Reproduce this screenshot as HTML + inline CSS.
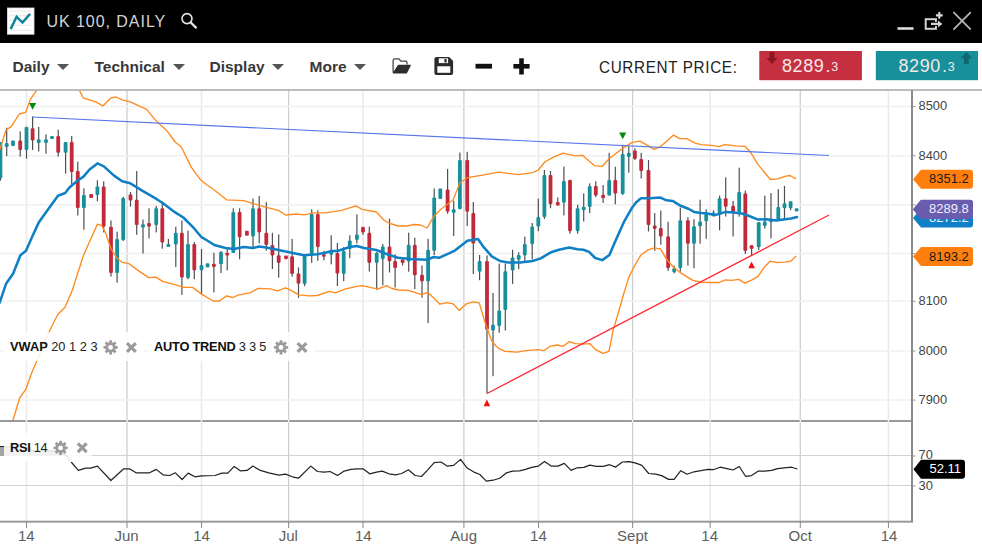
<!DOCTYPE html>
<html><head><meta charset="utf-8"><title>UK 100, DAILY</title>
<style>
html,body{margin:0;padding:0;}
body{width:982px;height:550px;position:relative;overflow:hidden;background:#fff;font-family:"Liberation Sans",sans-serif;}
.abs{position:absolute;white-space:nowrap;}
#title{left:0;top:0;width:982px;height:42.5px;background:#000;}
#ttext{left:46.5px;top:11.7px;font-size:16px;line-height:20px;color:#d4d4d4;letter-spacing:0.95px;}
.menu{top:56.6px;font-size:15.5px;line-height:20px;font-weight:bold;color:#383838;}
.caret{top:63.9px;margin-left:-0.4px;width:0;height:0;border-left:6px solid transparent;border-right:6px solid transparent;border-top:6px solid #555;}
#cprice{left:598.5px;top:57px;font-size:16.5px;line-height:20px;color:#222;letter-spacing:0.7px;transform:scaleX(0.925);transform-origin:0 0;}
.pbox{top:51px;height:29px;color:#f4e9ea;}
.pbox .big{position:absolute;top:4.6px;font-size:18px;line-height:20px;letter-spacing:0.6px;}
.pbox .sm{position:absolute;top:9.2px;font-size:12.5px;line-height:14px;}
.ax{font-size:12.9px;line-height:14px;color:#444;left:918.5px;}
.xl{font-size:15px;line-height:18px;color:#5e5e5e;top:527.3px;transform:translateX(-50%);}
.lab{font-size:13px;line-height:14px;}
.leg{font-size:12.8px;line-height:16px;color:#222;background:rgba(255,255,255,0.86);}
.leg b{color:#111;}
</style></head><body>
<svg class="abs" style="left:0;top:0" width="982" height="550" viewBox="0 0 982 550">
<defs><clipPath id="cp"><rect x="0" y="90" width="912" height="330.5"/></clipPath></defs>
<line x1="26.5" y1="90" x2="26.5" y2="522" stroke="#e9e9e9" stroke-width="1.5"/>
<line x1="127" y1="90" x2="127" y2="522" stroke="#cecece" stroke-width="1.3"/>
<line x1="201.5" y1="90" x2="201.5" y2="522" stroke="#e9e9e9" stroke-width="1.5"/>
<line x1="288.6" y1="90" x2="288.6" y2="522" stroke="#cecece" stroke-width="1.3"/>
<line x1="363" y1="90" x2="363" y2="522" stroke="#e9e9e9" stroke-width="1.5"/>
<line x1="463.9" y1="90" x2="463.9" y2="522" stroke="#cecece" stroke-width="1.3"/>
<line x1="538.5" y1="90" x2="538.5" y2="522" stroke="#e9e9e9" stroke-width="1.5"/>
<line x1="632.6" y1="90" x2="632.6" y2="522" stroke="#cecece" stroke-width="1.3"/>
<line x1="710.2" y1="90" x2="710.2" y2="522" stroke="#e9e9e9" stroke-width="1.5"/>
<line x1="800.3" y1="90" x2="800.3" y2="522" stroke="#cecece" stroke-width="1.3"/>
<line x1="888.4" y1="90" x2="888.4" y2="522" stroke="#e9e9e9" stroke-width="1.5"/>
<line x1="0" y1="106.5" x2="912" y2="106.5" stroke="#f0f0f0" stroke-width="1.5"/>
<line x1="0" y1="155.7" x2="912" y2="155.7" stroke="#f0f0f0" stroke-width="1.5"/>
<line x1="0" y1="204.8" x2="912" y2="204.8" stroke="#f0f0f0" stroke-width="1.5"/>
<line x1="0" y1="253.6" x2="912" y2="253.6" stroke="#f0f0f0" stroke-width="1.5"/>
<line x1="0" y1="301.3" x2="912" y2="301.3" stroke="#f0f0f0" stroke-width="1.5"/>
<line x1="0" y1="351" x2="912" y2="351" stroke="#f0f0f0" stroke-width="1.5"/>
<line x1="0" y1="400.1" x2="912" y2="400.1" stroke="#f0f0f0" stroke-width="1.5"/>
<line x1="0" y1="455.5" x2="912" y2="455.5" stroke="#d2d2d2" stroke-width="1"/>
<line x1="0" y1="485.5" x2="912" y2="485.5" stroke="#d2d2d2" stroke-width="1"/>
<g clip-path="url(#cp)">
<rect x="-0.2" y="142.0" width="1.2" height="38.7" fill="#4c5054"/>
<rect x="-1.5" y="142.0" width="3.8" height="36.6" rx="1.1" fill="#17909c"/>
<rect x="6.1" y="127.7" width="1.2" height="28.5" fill="#4c5054"/>
<rect x="4.8" y="143.0" width="3.8" height="4.0" rx="1.1" fill="#17909c"/>
<rect x="11.1" y="140.5" width="3.8" height="5.5" rx="1.1" fill="#17909c"/>
<rect x="19.6" y="131.4" width="1.2" height="25.2" fill="#4c5054"/>
<rect x="18.3" y="140.5" width="3.8" height="9.5" rx="1.1" fill="#c12a3b"/>
<rect x="25.9" y="126.7" width="1.2" height="32.0" fill="#4c5054"/>
<rect x="24.6" y="127.0" width="3.8" height="23.0" rx="1.1" fill="#17909c"/>
<rect x="32.0" y="116.5" width="1.2" height="33.5" fill="#4c5054"/>
<rect x="30.7" y="128.3" width="3.8" height="12.2" rx="1.1" fill="#c12a3b"/>
<rect x="38.1" y="127.0" width="1.2" height="24.5" fill="#4c5054"/>
<rect x="36.8" y="139.3" width="3.8" height="3.7" rx="1.1" fill="#17909c"/>
<rect x="45.4" y="134.4" width="1.2" height="19.4" fill="#4c5054"/>
<rect x="44.1" y="139.3" width="3.8" height="3.7" rx="1.1" fill="#17909c"/>
<rect x="50.1" y="135.9" width="3.8" height="3.1" rx="1.1" fill="#17909c"/>
<rect x="57.6" y="129.7" width="1.2" height="26.9" fill="#4c5054"/>
<rect x="56.3" y="135.9" width="3.8" height="16.9" rx="1.1" fill="#c12a3b"/>
<rect x="65.0" y="142.0" width="1.2" height="31.5" fill="#4c5054"/>
<rect x="63.7" y="142.0" width="3.8" height="10.8" rx="1.1" fill="#17909c"/>
<rect x="71.1" y="135.9" width="1.2" height="48.8" fill="#4c5054"/>
<rect x="69.8" y="142.0" width="3.8" height="30.0" rx="1.1" fill="#c12a3b"/>
<rect x="77.2" y="161.7" width="1.2" height="53.8" fill="#4c5054"/>
<rect x="75.9" y="171.0" width="3.8" height="37.0" rx="1.1" fill="#c12a3b"/>
<rect x="83.3" y="188.4" width="1.2" height="41.3" fill="#4c5054"/>
<rect x="82.0" y="195.0" width="3.8" height="13.0" rx="1.1" fill="#17909c"/>
<rect x="89.3" y="194.0" width="3.8" height="4.0" rx="1.1" fill="#c12a3b"/>
<rect x="96.8" y="180.3" width="1.2" height="20.9" fill="#4c5054"/>
<rect x="95.5" y="186.4" width="3.8" height="8.6" rx="1.1" fill="#17909c"/>
<rect x="103.1" y="181.3" width="1.2" height="51.1" fill="#4c5054"/>
<rect x="101.8" y="186.4" width="3.8" height="40.3" rx="1.1" fill="#c12a3b"/>
<rect x="110.4" y="220.5" width="1.2" height="56.0" fill="#4c5054"/>
<rect x="109.1" y="226.7" width="3.8" height="46.3" rx="1.1" fill="#c12a3b"/>
<rect x="116.5" y="231.7" width="1.2" height="51.0" fill="#4c5054"/>
<rect x="115.2" y="238.9" width="3.8" height="34.1" rx="1.1" fill="#17909c"/>
<rect x="122.6" y="197.0" width="1.2" height="44.0" fill="#4c5054"/>
<rect x="121.3" y="198.0" width="3.8" height="42.0" rx="1.1" fill="#17909c"/>
<rect x="129.9" y="192.0" width="1.2" height="14.7" fill="#4c5054"/>
<rect x="128.6" y="194.5" width="3.8" height="6.1" rx="1.1" fill="#c12a3b"/>
<rect x="136.1" y="171.0" width="1.2" height="63.8" fill="#4c5054"/>
<rect x="134.8" y="199.8" width="3.8" height="25.2" rx="1.1" fill="#c12a3b"/>
<rect x="142.4" y="219.5" width="1.2" height="34.0" fill="#4c5054"/>
<rect x="141.1" y="224.2" width="3.8" height="3.5" rx="1.1" fill="#17909c"/>
<rect x="148.4" y="208.3" width="1.2" height="30.2" fill="#4c5054"/>
<rect x="147.1" y="223.0" width="3.8" height="3.7" rx="1.1" fill="#c12a3b"/>
<rect x="155.6" y="205.9" width="1.2" height="26.5" fill="#4c5054"/>
<rect x="154.3" y="208.3" width="3.8" height="16.7" rx="1.1" fill="#17909c"/>
<rect x="161.7" y="201.2" width="1.2" height="47.5" fill="#4c5054"/>
<rect x="160.4" y="208.3" width="3.8" height="34.2" rx="1.1" fill="#c12a3b"/>
<rect x="167.8" y="238.9" width="1.2" height="8.1" fill="#4c5054"/>
<rect x="166.5" y="244.0" width="3.8" height="3.0" rx="1.1" fill="#17909c"/>
<rect x="175.2" y="226.7" width="1.2" height="40.3" fill="#4c5054"/>
<rect x="173.9" y="232.8" width="3.8" height="11.8" rx="1.1" fill="#17909c"/>
<rect x="181.3" y="220.5" width="1.2" height="74.4" fill="#4c5054"/>
<rect x="180.0" y="232.8" width="3.8" height="44.8" rx="1.1" fill="#c12a3b"/>
<rect x="187.4" y="230.7" width="1.2" height="48.5" fill="#4c5054"/>
<rect x="186.1" y="244.0" width="3.8" height="34.0" rx="1.1" fill="#17909c"/>
<rect x="193.7" y="242.0" width="1.2" height="37.2" fill="#4c5054"/>
<rect x="192.4" y="244.0" width="3.8" height="26.4" rx="1.1" fill="#c12a3b"/>
<rect x="200.9" y="249.0" width="1.2" height="44.9" fill="#4c5054"/>
<rect x="199.6" y="265.0" width="3.8" height="5.4" rx="1.1" fill="#17909c"/>
<rect x="205.7" y="263.3" width="3.8" height="4.1" rx="1.1" fill="#17909c"/>
<rect x="213.3" y="252.7" width="1.2" height="39.7" fill="#4c5054"/>
<rect x="212.0" y="263.7" width="3.8" height="3.3" rx="1.1" fill="#c12a3b"/>
<rect x="220.4" y="251.0" width="1.2" height="22.0" fill="#4c5054"/>
<rect x="219.1" y="252.0" width="3.8" height="12.3" rx="1.1" fill="#17909c"/>
<rect x="226.6" y="247.0" width="1.2" height="23.4" fill="#4c5054"/>
<rect x="225.3" y="252.7" width="3.8" height="2.9" rx="1.1" fill="#c12a3b"/>
<rect x="232.7" y="208.3" width="1.2" height="44.7" fill="#4c5054"/>
<rect x="231.4" y="212.0" width="3.8" height="41.0" rx="1.1" fill="#17909c"/>
<rect x="239.0" y="208.3" width="1.2" height="50.9" fill="#4c5054"/>
<rect x="237.7" y="212.0" width="3.8" height="25.3" rx="1.1" fill="#c12a3b"/>
<rect x="245.0" y="230.7" width="3.8" height="5.1" rx="1.1" fill="#c12a3b"/>
<rect x="252.4" y="198.6" width="1.2" height="50.4" fill="#4c5054"/>
<rect x="251.1" y="208.3" width="3.8" height="28.1" rx="1.1" fill="#17909c"/>
<rect x="258.6" y="196.0" width="1.2" height="47.4" fill="#4c5054"/>
<rect x="257.3" y="208.3" width="3.8" height="24.1" rx="1.1" fill="#c12a3b"/>
<rect x="265.7" y="202.2" width="1.2" height="48.5" fill="#4c5054"/>
<rect x="264.4" y="232.8" width="3.8" height="12.2" rx="1.1" fill="#c12a3b"/>
<rect x="271.8" y="232.8" width="1.2" height="36.2" fill="#4c5054"/>
<rect x="270.5" y="245.0" width="3.8" height="10.6" rx="1.1" fill="#c12a3b"/>
<rect x="278.1" y="234.4" width="1.2" height="43.2" fill="#4c5054"/>
<rect x="276.8" y="255.2" width="3.8" height="7.7" rx="1.1" fill="#c12a3b"/>
<rect x="284.1" y="255.6" width="3.8" height="3.6" rx="1.1" fill="#c12a3b"/>
<rect x="291.5" y="238.9" width="1.2" height="37.7" fill="#4c5054"/>
<rect x="290.2" y="256.2" width="3.8" height="17.7" rx="1.1" fill="#c12a3b"/>
<rect x="297.9" y="267.4" width="1.2" height="30.5" fill="#4c5054"/>
<rect x="296.6" y="273.5" width="3.8" height="10.2" rx="1.1" fill="#c12a3b"/>
<rect x="304.0" y="255.2" width="1.2" height="30.9" fill="#4c5054"/>
<rect x="302.7" y="255.6" width="3.8" height="28.5" rx="1.1" fill="#17909c"/>
<rect x="311.1" y="209.3" width="1.2" height="53.6" fill="#4c5054"/>
<rect x="309.8" y="214.0" width="3.8" height="40.2" rx="1.1" fill="#17909c"/>
<rect x="317.2" y="210.4" width="1.2" height="50.5" fill="#4c5054"/>
<rect x="315.9" y="214.0" width="3.8" height="33.0" rx="1.1" fill="#c12a3b"/>
<rect x="323.3" y="251.0" width="1.2" height="9.3" fill="#4c5054"/>
<rect x="322.0" y="254.2" width="3.8" height="2.6" rx="1.1" fill="#c12a3b"/>
<rect x="330.6" y="235.2" width="1.2" height="29.1" fill="#4c5054"/>
<rect x="329.3" y="250.7" width="3.8" height="4.1" rx="1.1" fill="#17909c"/>
<rect x="336.8" y="243.0" width="1.2" height="43.1" fill="#4c5054"/>
<rect x="335.5" y="253.0" width="3.8" height="20.5" rx="1.1" fill="#c12a3b"/>
<rect x="343.1" y="247.0" width="1.2" height="34.2" fill="#4c5054"/>
<rect x="341.8" y="251.0" width="3.8" height="22.9" rx="1.1" fill="#17909c"/>
<rect x="349.2" y="235.2" width="1.2" height="23.0" fill="#4c5054"/>
<rect x="347.9" y="240.5" width="3.8" height="8.5" rx="1.1" fill="#17909c"/>
<rect x="356.3" y="214.4" width="1.2" height="29.0" fill="#4c5054"/>
<rect x="355.0" y="234.4" width="3.8" height="5.5" rx="1.1" fill="#17909c"/>
<rect x="362.4" y="226.7" width="1.2" height="8.1" fill="#4c5054"/>
<rect x="361.1" y="227.0" width="3.8" height="5.4" rx="1.1" fill="#c12a3b"/>
<rect x="368.7" y="226.7" width="1.2" height="44.8" fill="#4c5054"/>
<rect x="367.4" y="232.8" width="3.8" height="30.1" rx="1.1" fill="#c12a3b"/>
<rect x="376.1" y="252.0" width="1.2" height="37.8" fill="#4c5054"/>
<rect x="374.8" y="252.7" width="3.8" height="10.2" rx="1.1" fill="#17909c"/>
<rect x="382.2" y="244.0" width="1.2" height="41.3" fill="#4c5054"/>
<rect x="380.9" y="246.6" width="3.8" height="12.6" rx="1.1" fill="#17909c"/>
<rect x="388.9" y="218.5" width="1.2" height="54.0" fill="#4c5054"/>
<rect x="387.6" y="246.6" width="3.8" height="14.7" rx="1.1" fill="#c12a3b"/>
<rect x="394.5" y="254.3" width="1.2" height="33.2" fill="#4c5054"/>
<rect x="393.2" y="261.0" width="3.8" height="7.0" rx="1.1" fill="#c12a3b"/>
<rect x="402.0" y="259.4" width="1.2" height="6.1" fill="#4c5054"/>
<rect x="400.7" y="259.4" width="3.8" height="3.6" rx="1.1" fill="#c12a3b"/>
<rect x="408.1" y="232.7" width="1.2" height="39.0" fill="#4c5054"/>
<rect x="406.8" y="244.8" width="3.8" height="16.7" rx="1.1" fill="#17909c"/>
<rect x="414.2" y="237.8" width="1.2" height="51.2" fill="#4c5054"/>
<rect x="412.9" y="244.8" width="3.8" height="30.5" rx="1.1" fill="#c12a3b"/>
<rect x="421.4" y="265.5" width="1.2" height="32.2" fill="#4c5054"/>
<rect x="420.1" y="274.7" width="3.8" height="6.7" rx="1.1" fill="#c12a3b"/>
<rect x="427.5" y="238.8" width="1.2" height="84.2" fill="#4c5054"/>
<rect x="426.2" y="249.7" width="3.8" height="31.7" rx="1.1" fill="#17909c"/>
<rect x="433.6" y="188.5" width="1.2" height="66.5" fill="#4c5054"/>
<rect x="432.3" y="197.4" width="3.8" height="53.5" rx="1.1" fill="#17909c"/>
<rect x="438.4" y="188.5" width="3.8" height="10.5" rx="1.1" fill="#17909c"/>
<rect x="447.0" y="168.9" width="1.2" height="44.8" fill="#4c5054"/>
<rect x="445.7" y="189.5" width="3.8" height="22.2" rx="1.1" fill="#c12a3b"/>
<rect x="453.1" y="200.7" width="1.2" height="35.3" fill="#4c5054"/>
<rect x="451.8" y="209.2" width="3.8" height="3.7" rx="1.1" fill="#17909c"/>
<rect x="459.3" y="152.6" width="1.2" height="56.6" fill="#4c5054"/>
<rect x="458.0" y="160.0" width="3.8" height="49.2" rx="1.1" fill="#17909c"/>
<rect x="466.6" y="151.8" width="1.2" height="74.2" fill="#4c5054"/>
<rect x="465.3" y="160.0" width="3.8" height="51.7" rx="1.1" fill="#c12a3b"/>
<rect x="472.7" y="202.0" width="1.2" height="72.1" fill="#4c5054"/>
<rect x="471.4" y="212.9" width="3.8" height="30.6" rx="1.1" fill="#c12a3b"/>
<rect x="479.0" y="255.0" width="1.2" height="25.2" fill="#4c5054"/>
<rect x="477.7" y="261.0" width="3.8" height="10.7" rx="1.1" fill="#17909c"/>
<rect x="486.4" y="255.4" width="1.2" height="138.1" fill="#4c5054"/>
<rect x="485.1" y="261.0" width="3.8" height="68.5" rx="1.1" fill="#c12a3b"/>
<rect x="492.4" y="293.0" width="1.2" height="83.2" fill="#4c5054"/>
<rect x="491.1" y="324.7" width="3.8" height="5.8" rx="1.1" fill="#17909c"/>
<rect x="498.6" y="263.5" width="1.2" height="69.3" fill="#4c5054"/>
<rect x="497.3" y="310.4" width="3.8" height="15.6" rx="1.1" fill="#17909c"/>
<rect x="504.7" y="263.5" width="1.2" height="67.0" fill="#4c5054"/>
<rect x="503.4" y="271.3" width="3.8" height="38.7" rx="1.1" fill="#17909c"/>
<rect x="512.0" y="249.7" width="1.2" height="34.2" fill="#4c5054"/>
<rect x="510.7" y="257.4" width="3.8" height="13.2" rx="1.1" fill="#17909c"/>
<rect x="518.1" y="252.3" width="1.2" height="16.9" fill="#4c5054"/>
<rect x="516.8" y="255.0" width="3.8" height="4.8" rx="1.1" fill="#17909c"/>
<rect x="524.2" y="236.7" width="1.2" height="24.8" fill="#4c5054"/>
<rect x="522.9" y="243.9" width="3.8" height="11.5" rx="1.1" fill="#17909c"/>
<rect x="531.6" y="223.0" width="1.2" height="36.4" fill="#4c5054"/>
<rect x="530.3" y="226.6" width="3.8" height="17.6" rx="1.1" fill="#17909c"/>
<rect x="537.7" y="198.7" width="1.2" height="32.5" fill="#4c5054"/>
<rect x="536.4" y="217.0" width="3.8" height="9.6" rx="1.1" fill="#17909c"/>
<rect x="543.8" y="170.0" width="1.2" height="49.0" fill="#4c5054"/>
<rect x="542.5" y="175.0" width="3.8" height="42.0" rx="1.1" fill="#17909c"/>
<rect x="549.9" y="171.0" width="1.2" height="37.2" fill="#4c5054"/>
<rect x="548.6" y="175.0" width="3.8" height="29.2" rx="1.1" fill="#c12a3b"/>
<rect x="557.2" y="197.4" width="1.2" height="8.2" fill="#4c5054"/>
<rect x="555.9" y="202.0" width="3.8" height="3.6" rx="1.1" fill="#c12a3b"/>
<rect x="563.3" y="166.5" width="1.2" height="48.9" fill="#4c5054"/>
<rect x="562.0" y="181.0" width="3.8" height="21.7" rx="1.1" fill="#17909c"/>
<rect x="569.4" y="179.7" width="1.2" height="54.0" fill="#4c5054"/>
<rect x="568.1" y="180.0" width="3.8" height="51.2" rx="1.1" fill="#c12a3b"/>
<rect x="577.0" y="204.8" width="1.2" height="28.9" fill="#4c5054"/>
<rect x="575.7" y="208.2" width="3.8" height="23.0" rx="1.1" fill="#17909c"/>
<rect x="583.1" y="193.4" width="1.2" height="28.1" fill="#4c5054"/>
<rect x="581.8" y="206.8" width="3.8" height="3.5" rx="1.1" fill="#17909c"/>
<rect x="589.1" y="183.4" width="1.2" height="29.7" fill="#4c5054"/>
<rect x="587.8" y="186.0" width="3.8" height="21.0" rx="1.1" fill="#17909c"/>
<rect x="595.2" y="181.3" width="1.2" height="15.9" fill="#4c5054"/>
<rect x="593.9" y="186.0" width="3.8" height="9.6" rx="1.1" fill="#c12a3b"/>
<rect x="602.5" y="185.0" width="1.2" height="17.9" fill="#4c5054"/>
<rect x="601.2" y="194.8" width="3.8" height="3.4" rx="1.1" fill="#c12a3b"/>
<rect x="608.6" y="152.8" width="1.2" height="42.8" fill="#4c5054"/>
<rect x="607.3" y="179.9" width="3.8" height="15.7" rx="1.1" fill="#17909c"/>
<rect x="614.7" y="166.7" width="1.2" height="37.6" fill="#4c5054"/>
<rect x="613.4" y="179.9" width="3.8" height="13.6" rx="1.1" fill="#c12a3b"/>
<rect x="622.1" y="144.7" width="1.2" height="50.1" fill="#4c5054"/>
<rect x="620.8" y="154.0" width="3.8" height="40.2" rx="1.1" fill="#17909c"/>
<rect x="628.2" y="146.3" width="1.2" height="26.5" fill="#4c5054"/>
<rect x="626.9" y="152.8" width="3.8" height="4.1" rx="1.1" fill="#17909c"/>
<rect x="634.3" y="148.3" width="1.2" height="11.8" fill="#4c5054"/>
<rect x="633.0" y="150.4" width="3.8" height="8.5" rx="1.1" fill="#c12a3b"/>
<rect x="640.6" y="152.8" width="1.2" height="25.7" fill="#4c5054"/>
<rect x="639.3" y="158.9" width="3.8" height="12.2" rx="1.1" fill="#c12a3b"/>
<rect x="647.9" y="160.1" width="1.2" height="71.4" fill="#4c5054"/>
<rect x="646.6" y="170.1" width="3.8" height="54.9" rx="1.1" fill="#c12a3b"/>
<rect x="654.1" y="213.1" width="1.2" height="37.8" fill="#4c5054"/>
<rect x="652.8" y="225.4" width="3.8" height="3.5" rx="1.1" fill="#c12a3b"/>
<rect x="660.2" y="210.5" width="1.2" height="34.3" fill="#4c5054"/>
<rect x="658.9" y="228.0" width="3.8" height="8.5" rx="1.1" fill="#c12a3b"/>
<rect x="667.5" y="221.8" width="1.2" height="49.1" fill="#4c5054"/>
<rect x="666.2" y="236.3" width="3.8" height="31.9" rx="1.1" fill="#c12a3b"/>
<rect x="673.6" y="265.6" width="1.2" height="7.7" fill="#4c5054"/>
<rect x="672.3" y="268.2" width="3.8" height="4.1" rx="1.1" fill="#17909c"/>
<rect x="679.7" y="207.5" width="1.2" height="64.2" fill="#4c5054"/>
<rect x="678.4" y="220.2" width="3.8" height="48.0" rx="1.1" fill="#17909c"/>
<rect x="687.3" y="217.2" width="1.2" height="48.4" fill="#4c5054"/>
<rect x="686.0" y="220.2" width="3.8" height="23.6" rx="1.1" fill="#c12a3b"/>
<rect x="693.4" y="219.2" width="1.2" height="49.0" fill="#4c5054"/>
<rect x="692.1" y="226.3" width="3.8" height="17.5" rx="1.1" fill="#17909c"/>
<rect x="699.5" y="199.7" width="1.2" height="44.1" fill="#4c5054"/>
<rect x="698.2" y="221.5" width="3.8" height="4.8" rx="1.1" fill="#17909c"/>
<rect x="705.6" y="209.3" width="1.2" height="29.5" fill="#4c5054"/>
<rect x="704.3" y="212.3" width="3.8" height="9.0" rx="1.1" fill="#17909c"/>
<rect x="712.9" y="210.4" width="1.2" height="6.2" fill="#4c5054"/>
<rect x="711.6" y="212.5" width="3.8" height="3.7" rx="1.1" fill="#17909c"/>
<rect x="719.0" y="195.6" width="1.2" height="34.7" fill="#4c5054"/>
<rect x="717.7" y="198.2" width="3.8" height="16.5" rx="1.1" fill="#17909c"/>
<rect x="725.1" y="177.3" width="1.2" height="39.2" fill="#4c5054"/>
<rect x="723.8" y="198.2" width="3.8" height="8.6" rx="1.1" fill="#c12a3b"/>
<rect x="732.5" y="200.9" width="1.2" height="35.6" fill="#4c5054"/>
<rect x="731.2" y="205.8" width="3.8" height="6.4" rx="1.1" fill="#c12a3b"/>
<rect x="738.6" y="167.7" width="1.2" height="49.0" fill="#4c5054"/>
<rect x="737.3" y="192.1" width="3.8" height="20.2" rx="1.1" fill="#17909c"/>
<rect x="744.7" y="190.7" width="1.2" height="63.3" fill="#4c5054"/>
<rect x="743.4" y="193.5" width="3.8" height="57.4" rx="1.1" fill="#c12a3b"/>
<rect x="751.0" y="245.2" width="1.2" height="10.2" fill="#4c5054"/>
<rect x="749.7" y="245.2" width="3.8" height="3.7" rx="1.1" fill="#c12a3b"/>
<rect x="758.1" y="222.0" width="1.2" height="27.9" fill="#4c5054"/>
<rect x="756.8" y="222.2" width="3.8" height="25.1" rx="1.1" fill="#17909c"/>
<rect x="764.2" y="195.7" width="1.2" height="32.9" fill="#4c5054"/>
<rect x="762.9" y="221.5" width="3.8" height="4.5" rx="1.1" fill="#17909c"/>
<rect x="770.4" y="193.1" width="1.2" height="45.4" fill="#4c5054"/>
<rect x="769.1" y="219.5" width="3.8" height="2.8" rx="1.1" fill="#17909c"/>
<rect x="777.7" y="189.2" width="1.2" height="31.8" fill="#4c5054"/>
<rect x="776.4" y="207.0" width="3.8" height="13.0" rx="1.1" fill="#17909c"/>
<rect x="783.9" y="185.9" width="1.2" height="33.1" fill="#4c5054"/>
<rect x="782.6" y="203.3" width="3.8" height="5.0" rx="1.1" fill="#17909c"/>
<rect x="790.0" y="201.3" width="1.2" height="9.0" fill="#4c5054"/>
<rect x="788.7" y="201.3" width="3.8" height="6.9" rx="1.1" fill="#17909c"/>
<rect x="794.7" y="208.2" width="3.8" height="3.2" rx="1.1" fill="#17909c"/>
<polyline points="-2,154 0,149 6.1,129.8 11.2,126.7 19.3,114 25.5,112.4 30.5,99.2 36.7,90.4 42,84 50,80 60,78 70,80 75,84 79.4,90.4 83.5,98.2 95.7,101.8 102.9,105.9 111,97.8 116,97 122.2,99.8 130.3,101.8 146.6,109.4 156.8,121.6 167,130.8 175.2,142 181.3,147 191.4,167.4 200,179.2 207,185 214.3,190 226.6,199.8 243.9,200.6 254,203.8 266.3,207.3 278.5,210.4 285.6,215 296.8,214 304,214.8 313.1,212.8 325.3,212.8 341.6,210.4 355.9,205.9 362,209.3 376.3,212 384.4,220.5 390,223.5 398.1,226 406.3,226 414.4,224.5 420.5,225 427,228 433.8,216.4 440.9,209.2 453.1,200 459.9,182.8 467.4,177.7 479.6,175.6 499,172.2 518.3,174.6 532.6,172.6 538.3,170 544.8,162 552.9,157.3 563.1,153.2 575.3,155.9 582.5,155.3 585,157.5 594.2,165.6 602.3,166.3 609.4,158.5 622.7,148.3 631.8,142.6 640,141.2 646.1,144.7 654.2,149.3 660.4,146.7 673.6,135.1 679.7,138.6 686.8,138.6 695,143.2 701.1,144.7 711.3,145.3 719.4,146.7 724.5,144.7 735.7,145.9 744.9,146.3 750,151.4 758.1,164.6 770.3,179.5 777.5,178.9 785,176.4 790,175.5 796,179" fill="none" stroke="#ff8a1e" stroke-width="1.35" stroke-linejoin="round"/>
<polyline points="12.8,421 19.6,398 25.8,389.4 31.9,372.2 36.8,361.2 49.1,331.7 57.7,314.5 65,307.2 72.4,290 83.5,255.2 97.4,224.2 101.8,225.6 105.9,233.8 111,249 117.1,258.2 122.2,262.3 128.3,263.3 136.5,269.4 148.7,277.6 155.8,277.2 163,281.6 175.2,284.7 183.3,287.4 192.5,287.4 201.1,293.9 213.3,301 219.4,301 226.6,295.9 232.7,297.5 238.8,294.9 250,292.9 258.1,288.4 270.4,288.8 277.5,290.8 285.6,287.8 292.8,291.4 298.9,294.9 309,295.9 317.2,295.5 329.4,291.4 335.5,292.9 345.7,288.8 355.9,286.7 362,285.7 372.2,287.8 378.3,288.8 386.4,285.7 392,288.5 398.1,290 408.3,290.4 421.6,294.7 427.7,292.4 433.8,298.1 439.9,304.2 447,302.6 453.1,303.8 459.2,310.4 466.4,303.8 473.5,301.8 479.2,302.8 485.7,324.6 491.8,340.9 496,346 499.1,348.7 505.2,351.3 517.4,352.2 525.5,350.7 537.8,349.7 543.9,350.7 550,346.3 557.1,345 563.2,346.3 569.3,341.6 575.4,343.6 582.6,344.2 589.7,343.6 595.8,349.7 602.9,353.4 609,351.3 613.1,330.4 618.6,312 623.7,293.7 628.8,277.4 634.9,265.2 641,255 648.1,249.9 654.2,247.9 660.4,248.9 666.5,259.1 672.6,266.2 680.7,272.9 692.9,280.4 701.1,282.1 709.2,282.5 719.4,282.5 725.5,279.8 731.6,280.4 738.8,279.4 744.9,283.1 752,279.8 758.1,276.4 764.2,267.2 770.3,261.1 777.5,262.7 785,262.1 791,261 796,256" fill="none" stroke="#ff8a1e" stroke-width="1.35" stroke-linejoin="round"/>
<line x1="32.6" y1="117" x2="829" y2="155.5" stroke="#5574ec" stroke-width="1.15"/>
<line x1="487" y1="393.5" x2="829" y2="215" stroke="#ff2c36" stroke-width="1.4"/>
<polyline points="-2,306 0,301.6 6.1,283.7 13.2,273.5 20.4,255.2 26,250.7 32.6,235.8 38.7,222.6 48.9,208.3 58,195.7 65.2,193 69.2,187.8 77.4,180.7 83.5,176.6 89.6,169.5 97.4,163.4 103.9,166.4 114,175.6 122.2,181.3 130.3,183.3 142.6,190.9 156.8,199.2 163,203.2 175.2,212.4 183.3,217.5 193.5,227.7 201.1,236.8 207.2,240.5 214.3,245 225.5,248 233.7,249 243.9,247 253,248 259.2,246.6 266.3,247.4 278.5,250 292.8,253 304,255.2 317.2,254.2 325.3,252.7 331.5,251 337.6,251 343.7,249 349.8,247 356.9,246 364,248 376.3,250 388.5,254.8 398.1,257.8 410.4,259 426.7,259.8 433.8,257 438.9,257.8 449,253.3 455.2,250.3 467.4,240.7 478,239 483.7,247.2 491.8,256.4 500,261 508.1,262.5 520.3,262.5 532.6,261 540.7,258.4 550.9,252.3 559,249.7 569.2,247.6 577.4,249.3 583.5,249.7 589.1,251.9 595.2,258 602.3,260.1 609.4,255 615.5,240.7 623.7,222.4 631.8,208.1 636,202.5 641,198.2 650.2,198.2 660.4,197.6 666.5,200.3 672.6,200.9 680.7,205.8 688.9,209 694,211.9 701.1,213.1 707.2,213.5 715.3,215.1 725.5,211.9 733.7,212.5 741.8,213.5 747.9,215.5 758.1,219.6 766.3,219.2 776.4,220.6 785,219.2 791,218.5 797,217" fill="none" stroke="#0f80c6" stroke-width="2.55" stroke-linejoin="round" stroke-linecap="round"/>
<polygon points="29,103 36.2,103 32.6,109.8" fill="#0a8a0a"/>
<polygon points="619.1,132.4 626.3,132.4 622.7,139.2" fill="#0a8a0a"/>
<polygon points="483.6,406.2 490.2,406.2 486.9,399.6" fill="#f01010"/>
<polygon points="748.3,268.2 754.9,268.2 751.6,261.5" fill="#f01010"/>
</g>
<polygon points="0,446.5 26.3,447 32.8,450.7 52.2,450.7 58.7,452.5 65.2,454 66.7,456 0,456" fill="#a4a4a4"/>
<polyline points="0,446.5 26.3,447 32.8,450.7 52.2,450.7 58.7,452.5 65.2,454 71.6,462.5 78.3,470.4 85.7,468.1 90.7,468.1 97.4,466.1 110.9,480.5 123.7,468.8 129.4,468.8 136.1,472.8 149.5,472.8 156.3,469.4 163,474.8 169.7,475.5 175.4,472.8 182.1,479.5 188.2,473.1 194.9,476.8 201.6,475.8 215.1,475.5 221.8,473.1 227.8,473.1 234.2,466.4 240.3,470.8 247,470.4 253,466.1 260.4,470.4 268.8,472.8 278.9,475.1 285.6,474.1 292.3,476.8 298.4,478.2 310.8,466.1 317.5,471.5 324.3,472.1 330.1,471.5 337.5,475.5 344.2,471.1 350.9,469.4 357,468.8 363,468.8 369.7,473.8 376.5,472.1 382.2,471.1 388.9,473.8 395.6,474.8 401.7,473.5 408.4,469.8 415.1,475.5 421.5,476.5 428.2,469.4 434.2,462.7 441,462 447,466.1 453.7,465.4 460.5,459.4 467.2,468.1 473.9,472.1 479.9,474.5 486.3,481.2 493.1,480.2 499.8,478.2 506.5,472.8 512.5,471.1 519.3,470.8 525.6,469.4 531.7,467.4 538.4,466.1 544.5,461.4 551.2,466.1 557.9,466.1 564.3,463.4 571,470.4 577.1,467.8 583.8,467.4 589.8,465.1 596.5,466.4 603.3,466.4 609.6,464.7 615.7,467.1 622.4,462 629.1,461.7 635.9,463.1 641.9,465.4 648.7,473.5 655.7,474.2 661.6,475.6 668.6,479.4 674.1,479.4 680.8,470.7 687,474.2 694,471.8 701,470.7 707.9,469.3 713.1,469.7 720.1,467.2 727.1,468.6 733,470 739.3,466.5 745.5,476.3 751.5,475.6 758.4,471.1 764.7,471.1 771.7,470.4 777.6,468.6 784.5,467.9 791.5,467.2 797.4,469" fill="none" stroke="#222" stroke-width="1.2" stroke-linejoin="round"/>
<rect x="0" y="89" width="982" height="2" fill="#bcbcbc"/>
<rect x="0" y="420" width="913" height="2" fill="#9a9a9a"/>
<rect x="0" y="520.7" width="913" height="2" fill="#9a9a9a"/>
<rect x="911" y="90" width="2" height="432" fill="#8a8a8a"/>
<rect x="25.8" y="419.5" width="1.4" height="3" fill="#f4f4f4"/>
<rect x="126.3" y="419.5" width="1.4" height="3" fill="#f4f4f4"/>
<rect x="200.8" y="419.5" width="1.4" height="3" fill="#f4f4f4"/>
<rect x="287.90000000000003" y="419.5" width="1.4" height="3" fill="#f4f4f4"/>
<rect x="362.3" y="419.5" width="1.4" height="3" fill="#f4f4f4"/>
<rect x="463.2" y="419.5" width="1.4" height="3" fill="#f4f4f4"/>
<rect x="537.8" y="419.5" width="1.4" height="3" fill="#f4f4f4"/>
<rect x="631.9" y="419.5" width="1.4" height="3" fill="#f4f4f4"/>
<rect x="709.5" y="419.5" width="1.4" height="3" fill="#f4f4f4"/>
<rect x="799.5999999999999" y="419.5" width="1.4" height="3" fill="#f4f4f4"/>
<rect x="887.6999999999999" y="419.5" width="1.4" height="3" fill="#f4f4f4"/>
<rect x="913" y="106.0" width="2.6" height="1" fill="#999"/>
<rect x="913" y="155.2" width="2.6" height="1" fill="#999"/>
<rect x="913" y="204.3" width="2.6" height="1" fill="#999"/>
<rect x="913" y="253.1" width="2.6" height="1" fill="#999"/>
<rect x="913" y="300.8" width="2.6" height="1" fill="#999"/>
<rect x="913" y="350.5" width="2.6" height="1" fill="#999"/>
<rect x="913" y="399.6" width="2.6" height="1" fill="#999"/>
<rect x="913" y="455.5" width="2.6" height="1" fill="#999"/>
<rect x="913" y="485.5" width="2.6" height="1" fill="#999"/>
<rect x="26.0" y="522" width="1" height="6" fill="#888"/>
<rect x="126.5" y="522" width="1" height="6" fill="#888"/>
<rect x="201.0" y="522" width="1" height="6" fill="#888"/>
<rect x="288.1" y="522" width="1" height="6" fill="#888"/>
<rect x="362.5" y="522" width="1" height="6" fill="#888"/>
<rect x="463.4" y="522" width="1" height="6" fill="#888"/>
<rect x="538.0" y="522" width="1" height="6" fill="#888"/>
<rect x="632.1" y="522" width="1" height="6" fill="#888"/>
<rect x="709.7" y="522" width="1" height="6" fill="#888"/>
<rect x="799.8" y="522" width="1" height="6" fill="#888"/>
<rect x="887.9" y="522" width="1" height="6" fill="#888"/>
</svg>

<!-- legend labels -->
<div class="abs leg" style="left:3px;top:332px;width:141px;height:29px;"></div>
<div class="abs leg" style="left:147px;top:332px;width:167px;height:29px;"></div>
<div class="abs leg" id="l1" style="left:10px;top:338.5px;background:none;"><b>VWAP</b> 20 1 2 3</div>
<div class="abs leg" id="l2" style="left:154px;top:338.5px;background:none;letter-spacing:-0.22px;"><b>AUTO TREND</b> 3 3 5</div>
<div class="abs leg" style="left:4px;top:433px;width:88px;height:28.5px;"></div>
<div class="abs leg" id="l3" style="left:10px;top:439.5px;background:none;letter-spacing:-0.3px;"><b>RSI</b> 14</div>

<svg class="abs" style="left:0;top:0" width="982" height="550" viewBox="0 0 982 550">
<defs>
<g id="gear"><g fill="#9b9b9b"><rect x="-1.45" y="-7.1" width="2.9" height="4" rx="0.6" transform="rotate(0)"/><rect x="-1.45" y="-7.1" width="2.9" height="4" rx="0.6" transform="rotate(45)"/><rect x="-1.45" y="-7.1" width="2.9" height="4" rx="0.6" transform="rotate(90)"/><rect x="-1.45" y="-7.1" width="2.9" height="4" rx="0.6" transform="rotate(135)"/><rect x="-1.45" y="-7.1" width="2.9" height="4" rx="0.6" transform="rotate(180)"/><rect x="-1.45" y="-7.1" width="2.9" height="4" rx="0.6" transform="rotate(225)"/><rect x="-1.45" y="-7.1" width="2.9" height="4" rx="0.6" transform="rotate(270)"/><rect x="-1.45" y="-7.1" width="2.9" height="4" rx="0.6" transform="rotate(315)"/><circle r="5.1"/></g><circle r="2.4" fill="#fff"/></g>
<g id="xx"><path d="M-4.4,-4.4 L4.4,4.4 M4.4,-4.4 L-4.4,4.4" stroke="#9b9b9b" stroke-width="3.2" stroke-linecap="butt" fill="none"/></g>
</defs>
<use href="#gear" x="110.6" y="347.4"/><use href="#xx" x="131.4" y="347.5"/>
<use href="#gear" x="281" y="347.4"/><use href="#xx" x="302" y="347.5"/>
<use href="#gear" x="60.6" y="447.9"/><use href="#xx" x="82.2" y="447.7"/>

<!-- axis price labels -->
<path d="M913,179.2 L921,169.7 H970 a3,3 0 0 1 3,3 V185.7 a3,3 0 0 1 -3,3 H921 Z" fill="#ff7f0e"/>
<path d="M913,256.6 L921,247.1 H970 a3,3 0 0 1 3,3 V263.1 a3,3 0 0 1 -3,3 H921 Z" fill="#ff7f0e"/>
<path d="M913,217.9 L921,208.4 H970 a3,3 0 0 1 3,3 V224.4 a3,3 0 0 1 -3,3 H921 Z" fill="#0f80c6"/>
<path d="M913,209.2 L921,199.7 H970 a3,3 0 0 1 3,3 V215.7 a3,3 0 0 1 -3,3 H921 Z" fill="#6a5db0"/>
<path d="M913.5,469.2 L921,459.7 H962 a3,3 0 0 1 3,3 V475.7 a3,3 0 0 1 -3,3 H921 Z" fill="#000"/>

<!-- title icons -->
<rect x="7.4" y="8" width="26.6" height="26.2" fill="#fff" stroke="#e4e4e4" stroke-width="0.8"/>
<g stroke="#e2e2e2" stroke-width="0.8"><line x1="9.4" y1="11" x2="31.3" y2="11"/><line x1="9.4" y1="15.3" x2="31.3" y2="15.3"/><line x1="9.4" y1="20.2" x2="31.3" y2="20.2"/><line x1="9.4" y1="25.2" x2="31.3" y2="25.2"/><line x1="9.4" y1="30.1" x2="31.3" y2="30.1"/></g>
<polyline points="10.6,29.1 16.6,16.8 22.5,22.6 30.1,13.9" fill="none" stroke="#0e8496" stroke-width="2.4"/>
<circle cx="187" cy="18.6" r="5" fill="none" stroke="#e4e4e4" stroke-width="1.6"/>
<line x1="190.6" y1="22.4" x2="196" y2="27.6" stroke="#e4e4e4" stroke-width="2.2" stroke-linecap="round"/>
<rect x="897.5" y="27.2" width="16" height="2.6" fill="#dcdcdc"/>
<rect x="925.7" y="19.2" width="10.2" height="9.6" fill="none" stroke="#d4d4d4" stroke-width="2"/>
<rect x="934" y="21.9" width="4" height="4" fill="#000"/>
<path d="M931,22.8 H938 V20.6 L942.4,23.9 L938,27.2 V25 H931 Z" fill="#d4d4d4"/>
<path d="M935.9,15.4 H942.7 M939.3,12 V18.8" stroke="#dadada" stroke-width="2.1" fill="none"/>
<path d="M953.4,12.2 L970.8,29.6 M970.8,12.2 L953.4,29.6" stroke="#b8b8b8" stroke-width="1.7" fill="none"/>

<!-- toolbar icons -->
<path d="M393.1,72.8 V60.3 a1.5,1.5 0 0 1 1.5,-1.5 h4.4 l1.8,2.3 h4.9 a1.3,1.3 0 0 1 1.3,1.3 v2.2" fill="none" stroke="#444" stroke-width="1.25"/>
<path d="M399,64.7 H410.4 a0.5,0.5 0 0 1 0.45,0.75 L407.2,72.8 a1,1 0 0 1 -0.9,0.6 H393.4 a0.5,0.5 0 0 1 -0.4,-0.8 L397.6,65.5 a1.5,1.5 0 0 1 1.4,-0.8 Z" fill="#2e2e2e"/>
<path d="M436.4,57 H449.2 L453.1,60.9 V72.9 a2,2 0 0 1 -2,2 H436.4 a2,2 0 0 1 -2,-2 V59 a2,2 0 0 1 2,-2 Z" fill="#2b2b2b"/>
<rect x="438.8" y="58.3" width="9.3" height="4.8" fill="#fff"/>
<rect x="444.4" y="59" width="2.2" height="3.5" fill="#2b2b2b"/>
<rect x="437.3" y="66.3" width="13" height="6.5" fill="#fff"/>
<rect x="475.5" y="63.8" width="16.5" height="4.8" fill="#111"/>
<rect x="513.4" y="64" width="16.2" height="4.6" fill="#111"/>
<rect x="519.2" y="58.3" width="4.6" height="16.2" fill="#111"/>

<!-- price boxes -->
<rect x="759.3" y="51" width="102.6" height="29.2" fill="#c4303f"/>
<rect x="875.8" y="51" width="102.2" height="29.2" fill="#17909c"/>
<path d="M769.6,52 H774.4 V58 H777.6 L772,64 L766.4,58 H769.6 Z" fill="#8e1622"/>
<path d="M964,64 H968.8 V58.2 H972.4 L966.4,52.2 L960.5,58.2 H964 Z" fill="#0e6670"/>
</svg>

<div class="abs" id="title" style="z-index:-1"></div>
<div class="abs" id="ttext">UK 100, DAILY</div>

<div class="abs menu" id="m1" style="left:12.5px;">Daily</div><div class="abs caret" style="left:57.8px;"></div>
<div class="abs menu" id="m2" style="left:94.5px;">Technical</div><div class="abs caret" style="left:173px;"></div>
<div class="abs menu" id="m3" style="left:209.5px;">Display</div><div class="abs caret" style="left:272px;"></div>
<div class="abs menu" id="m4" style="left:309.5px;">More</div><div class="abs caret" style="left:354.8px;"></div>
<div class="abs" id="cprice">CURRENT PRICE:</div>
<div class="abs pbox" style="left:759px;width:103px;"><span class="big" id="b1" style="left:23px;">8289</span><span class="big" style="left:66.5px;">.</span><span class="sm" style="left:72.3px;">3</span></div>
<div class="abs pbox" style="left:876px;width:102px;"><span class="big" id="b2" style="left:22.5px;">8290</span><span class="big" style="left:66px;">.</span><span class="sm" style="left:71.8px;">3</span></div>

<div class="abs ax" style="top:99.3px;">8500</div>
<div class="abs ax" style="top:148.5px;">8400</div>
<div class="abs ax" style="top:294px;">8100</div>
<div class="abs ax" style="top:343.6px;">8000</div>
<div class="abs ax" style="top:392.7px;">7900</div>
<div class="abs ax" style="top:447.5px;">70</div>
<div class="abs ax" style="top:479px;">30</div>

<div class="abs lab" style="left:929px;top:172.2px;color:#1a1a1a;">8351.2</div>
<div class="abs lab" style="left:929px;top:249.6px;color:#1a1a1a;">8193.2</div>
<div class="abs lab" style="left:929px;top:210.9px;color:#e8f2fa;">8272.2</div>
<div class="abs" style="left:913px;top:199.7px;width:60px;height:19px;overflow:hidden;"><svg width="60" height="19"><path d="M0,9.5 L8,0 H57 a3,3 0 0 1 3,3 V16 a3,3 0 0 1 -3,3 H8 Z" fill="#6a5db0"/></svg></div>
<div class="abs lab" style="left:929px;top:202.2px;color:#f0eefa;">8289.8</div>
<div class="abs lab" style="left:929.5px;top:462.2px;color:#fff;">52.11</div>

<div class="abs xl" style="left:26.3px;">14</div>
<div class="abs xl" style="left:126.5px;">Jun</div>
<div class="abs xl" style="left:201.5px;">14</div>
<div class="abs xl" style="left:288.3px;">Jul</div>
<div class="abs xl" style="left:363.3px;">14</div>
<div class="abs xl" style="left:463.7px;">Aug</div>
<div class="abs xl" style="left:538.4px;">14</div>
<div class="abs xl" style="left:632.5px;">Sept</div>
<div class="abs xl" style="left:709.7px;">14</div>
<div class="abs xl" style="left:800.2px;">Oct</div>
<div class="abs xl" style="left:889px;">14</div>
</body></html>
